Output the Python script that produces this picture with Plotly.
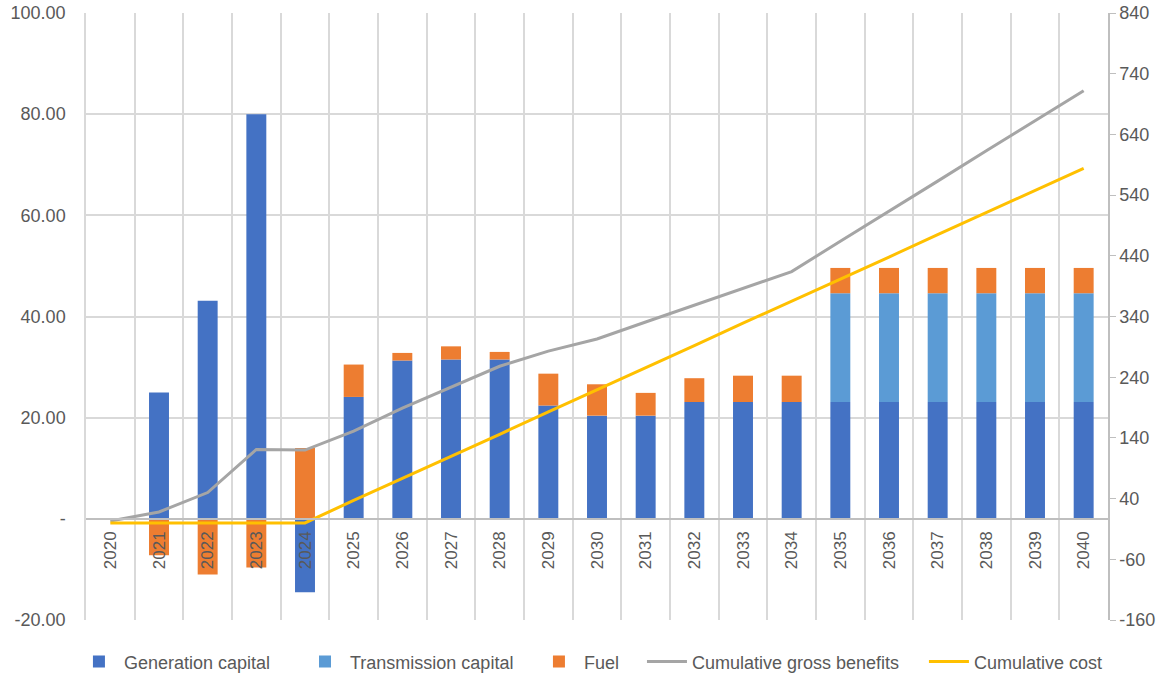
import plotly.graph_objects as go

years = [str(y) for y in range(2020, 2041)]
generation_capital = [0, 25.0, 43.1, 80.0, -14.5, 24.1, 31.3, 31.5, 31.5, 22.4, 20.4,
                      20.4, 23.1, 23.1, 23.1, 23.1, 23.1, 23.1, 23.1, 23.1, 23.1]
transmission_capital = [0, 0, 0, 0, 0, 0, 0, 0, 0, 0, 0,
                        0, 0, 0, 0, 21.5, 21.5, 21.5, 21.5, 21.5, 21.5]
fuel = [0, -7.2, -11.0, -9.6, 14.0, 6.4, 1.5, 2.6, 1.5, 6.3, 6.2,
        4.5, 4.7, 5.2, 5.2, 5.0, 5.0, 5.0, 5.0, 5.0, 5.0]
cum_gross_benefits = [3, 18, 50, 121, 120, 151, 189, 223, 258, 283, 303,
                      331, 359, 387, 414, 464, 513, 563, 613, 663, 712]
cum_cost = [0, 0, 0, 0, 0, 37, 73, 110, 146, 183, 219,
            256, 292, 329, 365, 402, 438, 475, 511, 548, 584]

left_ticks = [-20, 0, 20, 40, 60, 80, 100]
left_tick_text = ["-20.00", "-", "20.00", "40.00", "60.00", "80.00", "100.00"]
right_ticks = list(range(-160, 841, 100))
right_tick_text = [str(v) for v in right_ticks]

FONT = "Liberation Sans"
TXT = "#595959"
GRID = "#D9D9D9"

fig = go.Figure()
fig.add_trace(go.Bar(x=years, y=generation_capital, name="Generation capital",
                     marker=dict(color="#4472C4", line=dict(width=0)), legend="legend"))
fig.add_trace(go.Bar(x=years, y=transmission_capital, name="Transmission capital",
                     marker=dict(color="#5B9BD5", line=dict(width=0)), legend="legend2"))
fig.add_trace(go.Bar(x=years, y=fuel, name="Fuel",
                     marker=dict(color="#ED7D31", line=dict(width=0)), legend="legend3"))
fig.add_trace(go.Scatter(x=years, y=cum_gross_benefits, name="Cumulative gross benefits",
                         mode="lines", line=dict(color="#A5A5A5", width=3), yaxis="y2",
                         legend="legend4"))
fig.add_trace(go.Scatter(x=years, y=cum_cost, name="Cumulative cost",
                         mode="lines", line=dict(color="#FFC000", width=3), yaxis="y2",
                         legend="legend5"))

def leg(xp):
    return dict(orientation="h", x=xp - 0.0059, xanchor="left", y=-0.069, yanchor="middle",
                font=dict(size=18, color=TXT), itemwidth=40, bgcolor="rgba(0,0,0,0)")

fig.update_layout(
    width=1171, height=676,
    margin=dict(l=86, r=63, t=13, b=56, autoexpand=False),
    paper_bgcolor="white", plot_bgcolor="white",
    barmode="relative", bargap=0.59,
    font=dict(family=FONT, size=18, color=TXT),
    showlegend=True,
    legend=leg(-0.0059), legend2=leg(0.2153), legend3=leg(0.4442),
    legend4=leg(0.5499), legend5=leg(0.8258),
    xaxis=dict(type="category", anchor="free", position=1/6,
               tickson="boundaries", showgrid=True, gridcolor=GRID, gridwidth=1.5,
               showline=True, linecolor="#BFBFBF", linewidth=1.5,
               ticks="", tickangle=-90, ticklabelstandoff=5,
               tickfont=dict(size=17, color=TXT), range=[-0.5, 20.5]),
    yaxis=dict(range=[-20, 100], tickvals=left_ticks, ticktext=left_tick_text,
               showgrid=True, gridcolor=GRID, gridwidth=1.5, zeroline=False,
               showline=True, linecolor=GRID, linewidth=1.5,
               ticks="", ticklabelstandoff=15, tickfont=dict(size=18, color=TXT)),
    yaxis2=dict(range=[-160, 840], tickvals=right_ticks, ticktext=right_tick_text,
                overlaying="y", side="right",
                showgrid=False, zeroline=False, showline=True, linecolor="#BFBFBF",
                linewidth=1.5, ticks="outside", ticklen=6, tickcolor="#BFBFBF",
                tickfont=dict(size=18, color=TXT)),
)

fig.write_html("out.html")
